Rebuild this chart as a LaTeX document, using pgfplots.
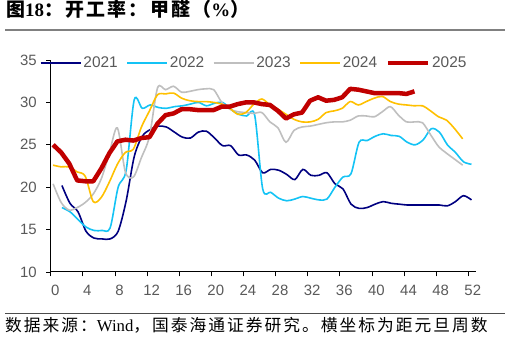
\documentclass[border=0pt]{standalone}
\usepackage{pgfplots}
\pgfplotsset{compat=1.18}
\usepackage{fontspec}
\setmainfont{Liberation Sans}
\newfontfamily\cjk{Noto Sans CJK SC}
\newfontfamily\serif{Liberation Serif}
\definecolor{c21}{RGB}{0,0,128}
\definecolor{c22}{RGB}{20,195,245}
\definecolor{c23}{RGB}{191,191,191}
\definecolor{c24}{RGB}{255,192,0}
\definecolor{c25}{RGB}{192,0,0}
\definecolor{lbl}{RGB}{89,89,89}
\begin{document}
\begin{tikzpicture}
\path[use as bounding box] (0,0) rectangle (510bp,340bp);
\node[anchor=base west, inner sep=0pt, font=\fontsize{19}{19}\selectfont] at (6bp,323bp) {\cjk\bfseries\addfontfeature{LetterSpace=12} 图{\serif\bfseries 18}：开工率：甲醛（{\serif\bfseries\%}）};
\draw[black!50, line width=2bp] (5bp,310bp) -- (505bp,310bp);
\draw[black!70, line width=0.8bp] (5bp,27bp) -- (505bp,27bp);
\node[anchor=base west, inner sep=0pt, font=\fontsize{16.8}{16.8}\selectfont] at (5bp,9bp) {\cjk\addfontfeature{LetterSpace=12} 数据来源：{\serif Wind}，国泰海通证券研究。横坐标为距元旦周数};
\begin{axis}[
  at={(50.7bp,68bp)}, anchor=south west,
  scale only axis, width=425.6bp, height=212bp,
  xmin=0, xmax=53, ymin=10, ymax=35,
  axis x line*=bottom, axis y line*=left,
  axis line style={black, line width=1bp, -},
  xtick={0,4,...,52}, ytick={10,15,...,35},
  tick align=outside, major tick length=4.5bp,
  tick style={black, line width=0.8bp},
  /pgf/number format/assume math mode=true,
  ticklabel style={font=\fontsize{15}{15}\selectfont, text=lbl},
  x tick label style={xshift=4.5bp, yshift=-5bp},
  y tick label style={xshift=-6bp},
  legend columns=5,
  legend style={at={(0,1)}, anchor=west, xshift=-11bp, yshift=-3bp, draw=none, fill=none, inner sep=0pt,
    font=\fontsize{15.5}{15.5}\selectfont, text=lbl,
    /tikz/every even column/.append style={column sep=6.5bp}},
  legend image code/.code={\draw[#1, line cap=butt] (0bp,0bp) -- (40bp,0bp);},
  every axis plot/.append style={line width=1.6bp},
]
\addplot[c21, smooth] coordinates {
(1.4,20.2)(2.4,18.1)(3.4,17.1)(4.4,14.8)(5.4,14.0)(6.4,13.9)(7.4,13.9)(8.4,14.8)(9.4,18.4)(10.4,23.6)
(11.4,26.0)(12.4,26.8)(13.4,27.2)(14.4,27.1)(15.4,26.5)(16.4,25.9)(17.4,25.8)(18.4,26.5)(19.4,26.6)(20.4,25.8)
(21.4,24.9)(22.4,24.9)(23.4,23.8)(24.4,23.8)(25.4,23.2)(26.4,21.7)(27.4,22.1)(28.4,22.0)(29.4,21.5)(30.4,20.9)
(31.4,22.1)(32.4,21.4)(33.4,21.4)(34.4,21.7)(35.4,20.4)(36.4,19.8)(37.4,18.0)(38.4,17.5)(39.4,17.6)(40.4,18.0)
(41.4,18.3)(42.4,18.1)(43.4,18.0)(44.4,17.9)(45.4,17.9)(46.4,17.9)(47.4,17.9)(48.4,17.9)(49.4,17.8)(50.4,18.3)
(51.4,19.0)(52.4,18.5)};
\addlegendentry{2021}
\addplot[c22, smooth] coordinates {
(1.4,17.6)(2.4,17.1)(3.4,16.2)(4.4,15.3)(5.4,14.9)(6.4,14.9)(7.4,15.2)(8.4,20.0)(9.4,22.0)(10.4,30.3)
(11.4,29.3)(12.4,29.7)(13.4,29.4)(14.4,29.3)(15.4,29.5)(16.4,29.6)(17.4,29.8)(18.4,30.0)(19.4,29.6)(20.4,29.9)
(21.4,30.0)(22.4,29.2)(23.4,28.6)(24.4,28.4)(25.4,28.5)(26.4,19.8)(27.4,19.4)(28.4,18.7)(29.4,18.4)(30.4,18.6)
(31.4,18.9)(32.4,18.7)(33.4,18.5)(34.4,18.6)(35.4,20.0)(36.4,21.2)(37.4,21.6)(38.4,25.3)(39.4,25.5)(40.4,26.0)
(41.4,26.3)(42.4,26.1)(43.4,26.0)(44.4,25.3)(45.4,25.0)(46.4,25.6)(47.4,26.9)(48.4,26.5)(49.4,25.0)(50.4,24.1)
(51.4,23.0)(52.4,22.7)};
\addlegendentry{2022}
\addplot[c23, smooth] coordinates {
(0.3,20.4)(1.3,18.2)(2.3,17.3)(3.3,17.6)(4.3,18.2)(5.3,19.2)(6.3,21.0)(7.3,24.0)(8.3,27.0)(9.3,21.8)
(10.3,21.2)(11.3,23.5)(12.3,26.0)(13.3,31.7)(14.3,31.5)(15.3,31.9)(16.3,31.2)(17.3,31.3)(18.3,31.5)(19.3,31.6)
(20.3,31.5)(21.3,30.0)(22.3,29.2)(23.3,28.9)(24.3,28.8)(25.3,28.7)(26.3,28.8)(27.3,27.7)(28.3,27.0)(29.3,25.3)
(30.3,26.7)(31.3,27.1)(32.3,27.2)(33.3,27.4)(34.3,27.6)(35.3,27.7)(36.3,27.7)(37.3,27.9)(38.3,28.4)(39.3,28.4)
(40.3,28.3)(41.3,28.9)(42.3,29.5)(43.3,28.5)(44.3,27.7)(45.3,27.7)(46.3,27.6)(47.3,26.2)(48.3,24.8)(49.3,24.0)
(50.3,23.3)(51.3,22.6)};
\addlegendentry{2023}
\addplot[c24, smooth] coordinates {
(0.3,22.6)(1.3,22.4)(2.3,22.4)(3.3,21.8)(4.3,21.3)(5.3,18.3)(6.3,18.8)(7.3,20.6)(8.3,22.7)(9.3,24.1)
(10.3,24.5)(11.3,27.1)(12.3,29.0)(13.3,30.9)(14.3,31.0)(15.3,31.1)(16.3,30.5)(17.3,30.2)(18.3,30.1)(19.3,30.1)
(20.3,30.0)(21.3,29.8)(22.3,29.3)(23.3,28.6)(24.3,28.8)(25.3,29.8)(26.3,30.4)(27.3,29.7)(28.3,29.2)(29.3,28.6)
(30.3,28.0)(31.3,27.7)(32.3,27.7)(33.3,28.0)(34.3,28.8)(35.3,29.0)(36.3,29.3)(37.3,30.1)(38.3,29.7)(39.3,30.1)
(40.3,30.5)(41.3,30.7)(42.3,30.1)(43.3,29.8)(44.3,29.7)(45.3,29.6)(46.3,29.6)(47.3,29.0)(48.3,28.3)(49.3,27.9)
(50.3,26.9)(51.3,25.7)};
\addlegendentry{2024}
\addplot[c25, line width=4.5bp, line join=round] coordinates {
(0.3,25.0)(1.3,24.1)(2.3,22.8)(3.3,20.8)(4.3,20.7)(5.3,20.7)(6.3,22.2)(7.3,24.0)(8.3,25.4)(9.3,25.6)
(10.3,25.5)(11.3,25.8)(12.3,25.9)(13.3,27.5)(14.3,28.5)(15.3,28.7)(16.3,29.2)(17.3,29.2)(18.3,29.1)(19.3,29.1)
(20.3,29.1)(21.3,29.5)(22.3,29.5)(23.3,29.8)(24.3,30.0)(25.3,30.0)(26.3,29.8)(27.3,29.7)(28.3,29.0)(29.3,28.1)
(30.3,28.6)(31.3,28.8)(32.3,30.2)(33.3,30.6)(34.3,30.2)(35.3,30.3)(36.3,30.6)(37.3,31.6)(38.3,31.5)(39.3,31.3)
(40.3,31.1)(41.3,31.1)(42.3,31.1)(43.3,31.1)(44.3,31.0)(45.3,31.3)};
\addlegendentry{2025}
\end{axis}
\end{tikzpicture}
\end{document}
